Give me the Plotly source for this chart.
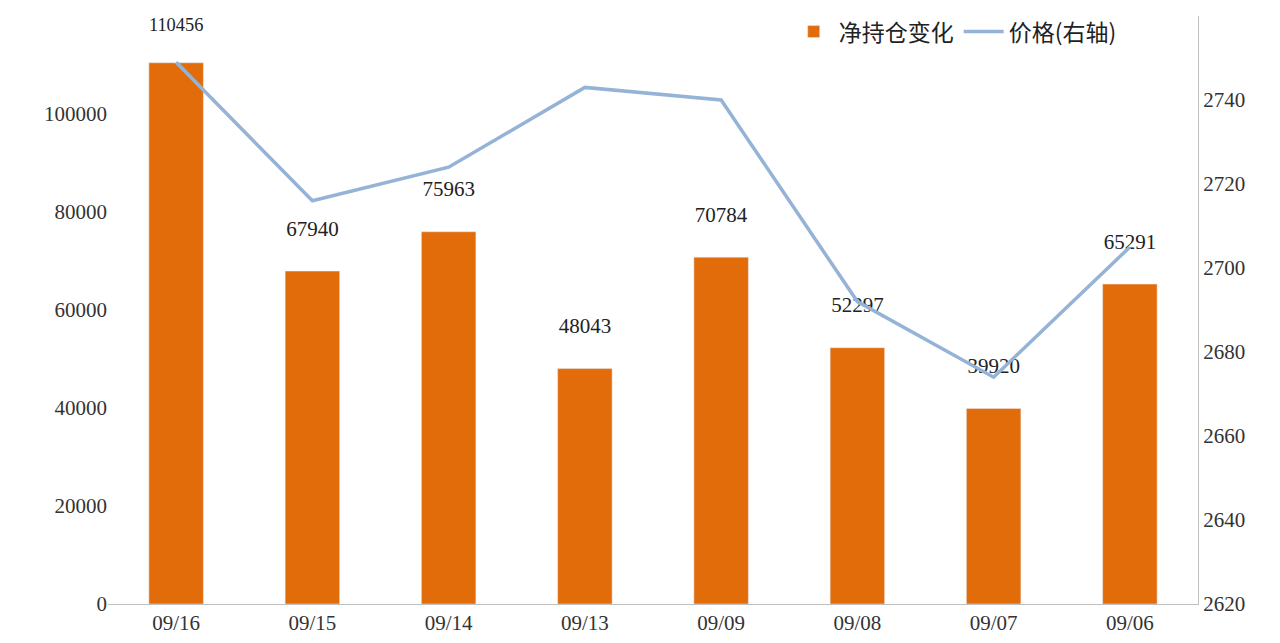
import plotly.graph_objects as go

dates = ["09/16","09/15","09/14","09/13","09/09","09/08","09/07","09/06"]
net_change = [110456, 67940, 75963, 48043, 70784, 52297, 39920, 65291]
price = [2749, 2716, 2724, 2743, 2740, 2692, 2674, 2705]

fig = go.Figure()
fig.add_trace(go.Bar(x=dates, y=net_change, name="净持仓变化", marker_color="#E36C0A",
                     width=0.4, text=[str(v) + "<br> " for v in net_change], textposition="outside",
                     textfont=dict(size=21, color="#222", family="Liberation Serif"), cliponaxis=False))
fig.add_trace(go.Scatter(x=dates, y=price, name="价格(右轴)", yaxis="y2", mode="lines",
                         line=dict(color="#95B3D7", width=3.5)))
fig.update_layout(
    width=1280, height=643, paper_bgcolor="white", plot_bgcolor="white",
    margin=dict(l=100, r=90, t=8, b=47, autoexpand=False),
    font=dict(family="Liberation Serif", size=21, color="#333"),
    xaxis=dict(showline=True, linecolor="#BFBFBF", ticks="", tickfont=dict(size=21)),
    yaxis=dict(range=[0,120000], dtick=20000, tickformat="d", showgrid=False, showline=False,
               zeroline=False, tickfont=dict(size=21)),
    yaxis2=dict(range=[2620,2760], dtick=20, overlaying="y", side="right", showgrid=False,
                showline=True, linecolor="#BFBFBF", tickfont=dict(size=21)),
    legend=dict(orientation="h", x=0.93, xanchor="right", y=1.01, yanchor="top",
                font=dict(size=23, family="Noto Sans CJK SC", color="#222"),
                bgcolor="rgba(0,0,0,0)", itemwidth=40),
    bargap=0.6,
)
fig.write_html("out.html")
